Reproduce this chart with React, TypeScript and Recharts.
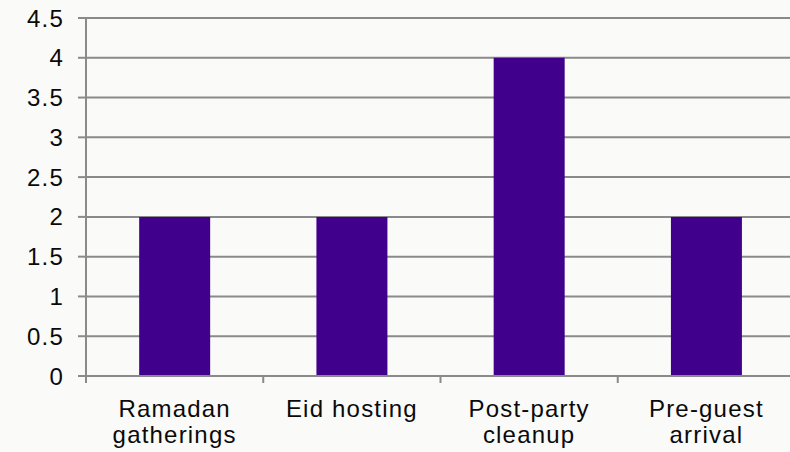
import { BarChart, Bar, XAxis, YAxis, CartesianGrid } from "recharts";

const categories = ["Ramadan\ngatherings", "Eid hosting", "Post-party\ncleanup", "Pre-guest\narrival"];
const counts = [2, 2, 4, 2];
const yTicks = [0, 0.5, 1, 1.5, 2, 2.5, 3, 3.5, 4, 4.5];

const data = categories.map((name, i) => ({ name, value: counts[i] }));

const GRID = "#8A8A8A";
const FONT = "'Liberation Sans', Arial, sans-serif";

const CHART_W = 800;
const MARGIN = { top: 18, right: 5, left: 0, bottom: 0 };
const Y_AXIS_W = 86;
// width of one category band, so tick marks sit between the bars
const BAND = (CHART_W - MARGIN.left - MARGIN.right - Y_AXIS_W) / categories.length;

function CategoryTick({ x, y, payload, index }: any) {
  const lines = String(payload.value).split("\n");
  const left = x - BAND / 2;
  const axisY = y - 7;
  return (
    <g>
      <line x1={left} x2={left} y1={axisY} y2={axisY + 7} stroke={GRID} strokeWidth={2} />
      {index === categories.length - 1 && (
        <line x1={left + BAND} x2={left + BAND} y1={axisY} y2={axisY + 7} stroke={GRID} strokeWidth={2} />
      )}
      <text
        x={x}
        y={y + 34}
        textAnchor="middle"
        fill="#0a0a0a"
        fontSize={24}
        fontFamily={FONT}
        letterSpacing={1.2}
      >
        {lines.map((line: string, i: number) => (
          <tspan key={i} x={x} dy={i === 0 ? 0 : 26}>
            {line}
          </tspan>
        ))}
      </text>
    </g>
  );
}

export default function App() {
  return (
    <div
      style={{
        position: "fixed",
        left: 0,
        top: 0,
        width: 790,
        height: 452,
        overflow: "hidden",
        background: "#FAFAF8",
      }}
    >
      <BarChart
        width={CHART_W}
        height={452}
        data={data}
        margin={MARGIN}
        barCategoryGap="30%"
      >
        <CartesianGrid vertical={false} stroke={GRID} strokeWidth={2} />
        <XAxis
          dataKey="name"
          height={76}
          interval={0}
          stroke={GRID}
          strokeWidth={2}
          tickLine={false}
          tickSize={7}
          tickMargin={0}
          tick={<CategoryTick />}
        />
        <YAxis
          width={Y_AXIS_W}
          domain={[0, 4.5]}
          ticks={yTicks}
          interval={0}
          stroke={GRID}
          strokeWidth={2}
          tickSize={8}
          tickMargin={14}
          tick={{ fill: "#0a0a0a", fontSize: 24, fontFamily: FONT, letterSpacing: 1.2 }}
        />
        <Bar dataKey="value" fill="#40008C" isAnimationActive={false} />
      </BarChart>
    </div>
  );
}
